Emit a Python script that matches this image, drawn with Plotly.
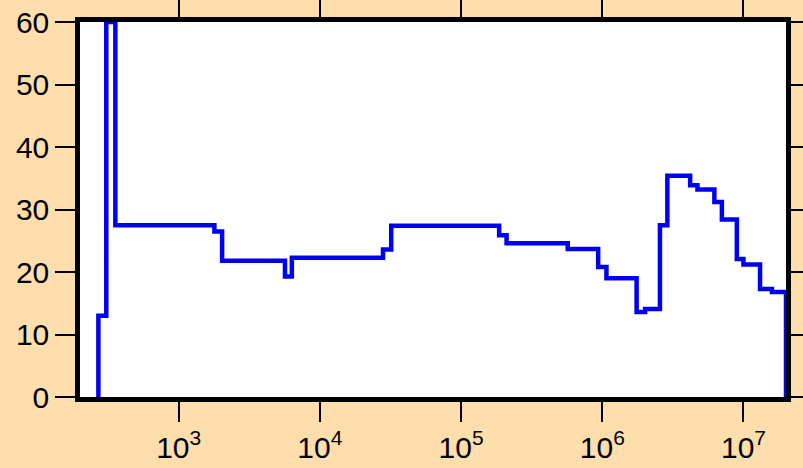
import plotly.graph_objects as go
import math

# Bin edges (x) and step values (y)
edges = [270, 307, 356, 1790, 2030, 5660, 6330, 28000, 32000, 186000, 210000,
         569000, 935000, 1.07e6, 1.75e6, 2.01e6, 2.56e6, 2.89e6, 4.19e6, 4.72e6,
         6.22e6, 7.03e6, 8.97e6, 1.0e7, 1.31e7, 1.59e7, 2.0e7]
values = [13, 60, 27.5, 26.5, 21.8, 19.3, 22.3, 23.6, 27.4, 25.9, 24.6, 23.7,
          20.8, 19.0, 13.6, 14.1, 27.5, 35.4, 33.9, 33.2, 31.2, 28.4, 22.1,
          21.2, 17.3, 16.8]
y_ticks = [0, 10, 20, 30, 40, 50, 60]
x_ticks = [1e3, 1e4, 1e5, 1e6, 1e7]
x_ticktext = ["10<sup>3</sup>", "10<sup>4</sup>", "10<sup>5</sup>",
              "10<sup>6</sup>", "10<sup>7</sup>"]
x_range = [200, 2e7]
y_range = [0, 60]

xs = [edges[0]] + edges
ys = [0] + values + [0]

fig = go.Figure()
fig.add_trace(go.Scatter(x=xs, y=ys, mode="lines", line_shape="hv",
                         line=dict(color="#0000F0", width=4.5),
                         showlegend=False, hoverinfo="skip"))

tickfont = dict(family="Liberation Sans, Arial, sans-serif", size=30, color="black")
fig.update_layout(
    width=803, height=468,
    paper_bgcolor="#FFDEAD", plot_bgcolor="white",
    margin=dict(l=80, r=17, t=22, b=71, autoexpand=False),
    font=tickfont,
    xaxis=dict(type="log", range=[math.log10(x_range[0]), math.log10(x_range[1])],
               tickvals=x_ticks, ticktext=x_ticktext, tickfont=tickfont,
               ticks="outside", ticklen=20, tickwidth=2, tickcolor="black",
               showline=True, linewidth=4.5, linecolor="black", mirror="ticks",
               showgrid=False, zeroline=False, automargin=False),
    yaxis=dict(range=y_range, tickvals=y_ticks, tickfont=tickfont,
               ticks="outside", ticklen=20, tickwidth=2, tickcolor="black",
               showline=True, linewidth=4.5, linecolor="black", mirror="ticks",
               showgrid=False, zeroline=False, automargin=False),
)
fig.write_html("out.html", config={"displayModeBar": False},
               post_script="document.body.style.margin='0';document.body.style.background='#FFDEAD';")
